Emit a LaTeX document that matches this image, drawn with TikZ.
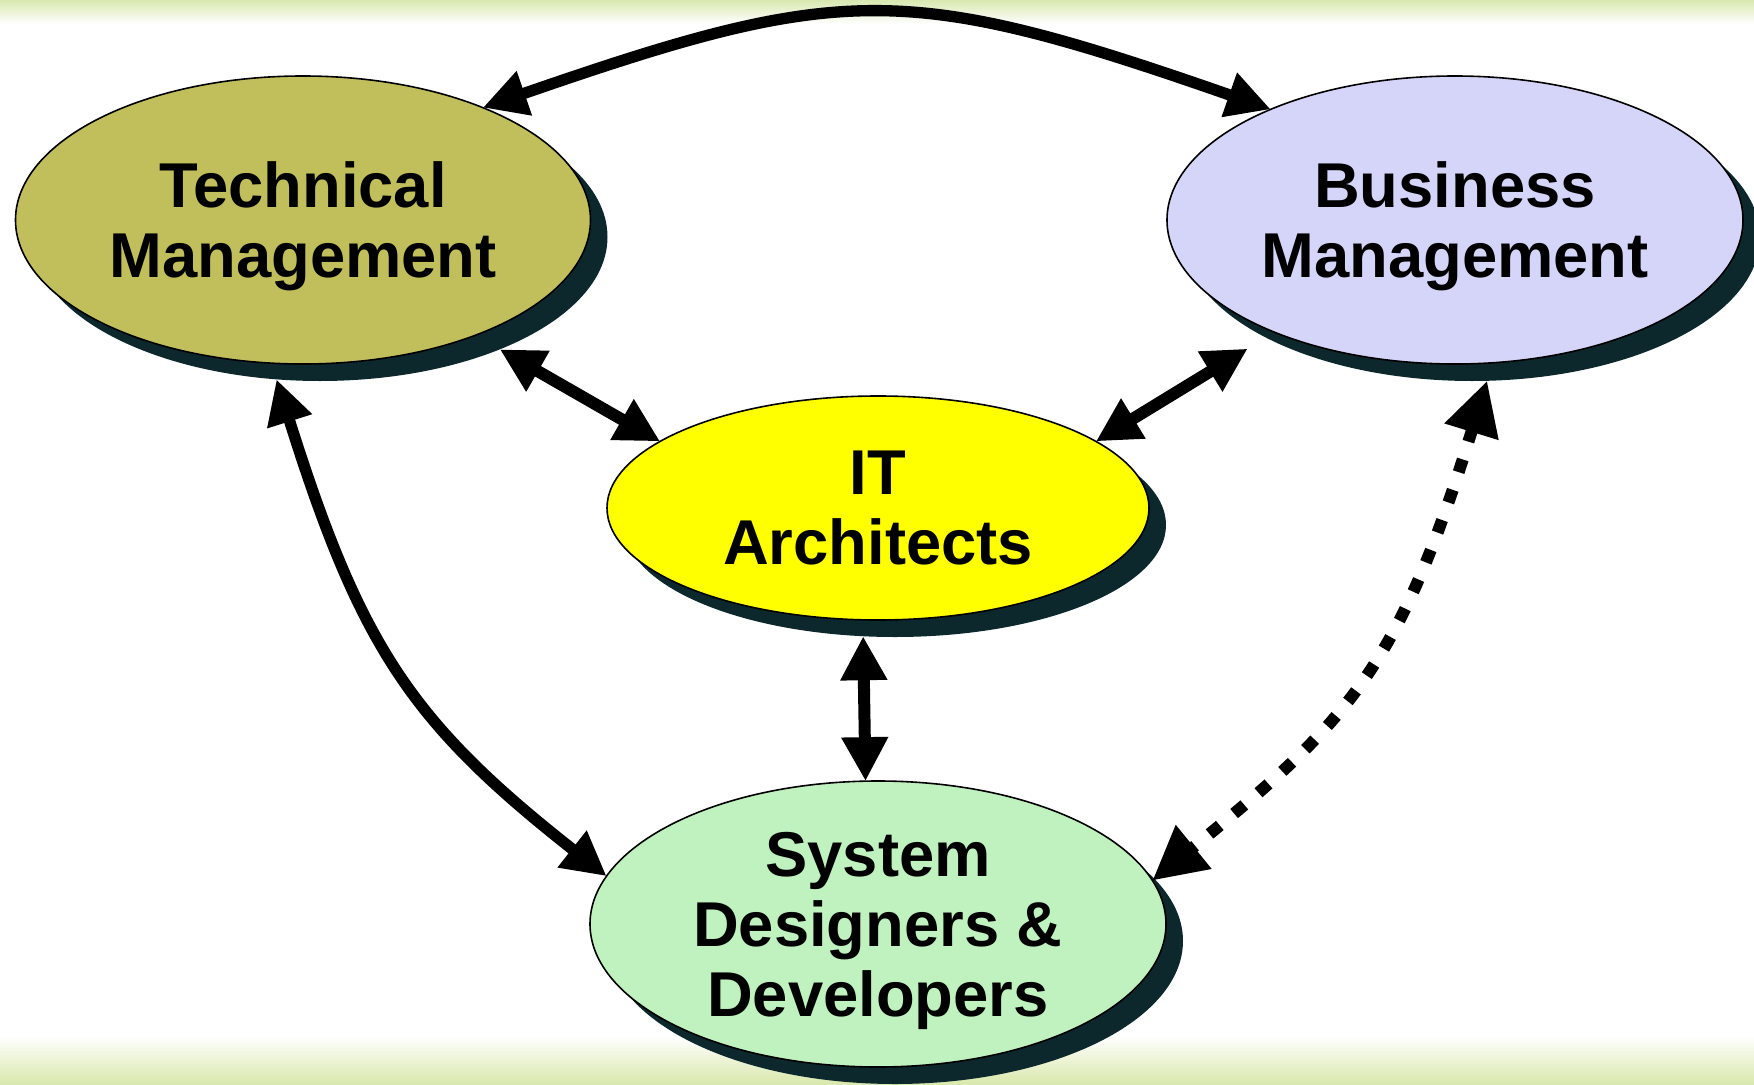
\documentclass[tikz,border=0pt]{standalone}
\usepackage{fontspec}
\setmainfont{Liberation Sans}
\usetikzlibrary{arrows.meta,shapes.geometric}

% last line of a label: keep its height, drop its descender
\newcommand{\flatline}[1]{\raisebox{0pt}[\height][0pt]{#1}}

\tikzset{every picture/.style={line width=0.75pt}}
\tikzset{
  bubble/.style={ellipse, draw, line width=1.2pt, inner sep=0pt, outer sep=0pt, align=center,
    font=\fontsize{47.5}{52.5}\selectfont\bfseries},
  bubbleshade/.style={ellipse, inner sep=0pt, outer sep=0pt, fill={rgb, 255:red, 12; green, 40; blue, 44}},
  biglink/.style={line width=9pt, {Triangle[length=33pt,width=33pt]}-{Triangle[length=33pt,width=33pt]}},
  bendlink/.style={line width=8.5pt, {Triangle[length=33pt,width=33pt]}-{Triangle[length=33pt,width=33pt]}},
  dotlink/.style={line width=9pt, dash pattern=on 10pt off 14pt, {Triangle[length=40pt,width=40pt]}-{Triangle[length=40pt,width=40pt]}}
}

\begin{document}
\begin{tikzpicture}[x=0.75pt,y=0.75pt,yscale=-1,xscale=1]
\useasboundingbox (0,0) rectangle (1754,1085);

%Shape: Rectangle [top band]
\fill [top color={rgb, 255:red, 216; green, 232; blue, 176 }, bottom color=white] (0,0) rectangle (1754,24);
%Shape: Rectangle [bottom band]
\fill [top color=white, bottom color={rgb, 255:red, 216; green, 232; blue, 170 }] (0,1036) rectangle (1754,1085);

%Shape: Ellipse shadows
\node [bubbleshade, minimum width=575*0.75pt, minimum height=288*0.75pt] (tmsh) at (320,237) {};
\node [bubbleshade, minimum width=576*0.75pt, minimum height=288*0.75pt] (bmsh) at (1472,237) {};
\node [bubbleshade, minimum width=542*0.75pt, minimum height=224*0.75pt] (itsh) at (895,525) {};
\node [bubbleshade, minimum width=576*0.75pt, minimum height=286*0.75pt] (sdsh) at (895,941) {};

%Shape: Ellipse [Technical Management]
\node [bubble, fill={rgb, 255:red, 192; green, 191; blue, 92 }, minimum width=575*0.75pt, minimum height=288*0.75pt] (tm) at (303,220) {Technical\\\flatline{Management}};
%Shape: Ellipse [Business Management]
\node [bubble, fill={rgb, 255:red, 213; green, 213; blue, 250 }, minimum width=576*0.75pt, minimum height=288*0.75pt] (bm) at (1455,220) {Business\\\flatline{Management}};
%Shape: Ellipse [IT Architects]
\node [bubble, fill={rgb, 255:red, 255; green, 255; blue, 0 }, minimum width=542*0.75pt, minimum height=224*0.75pt] (it) at (878,508) {IT\\\flatline{Architects}};
%Shape: Ellipse [System Designers]
\node [bubble, fill={rgb, 255:red, 192; green, 242; blue, 192 }, minimum width=576*0.75pt, minimum height=286*0.75pt] (sd) at (878,924) {System\\Designers \&\\\flatline{Developers}};

%Curve Lines [top]
\draw [bendlink] (tm.32.7) .. controls (843,-17) and (906,-18) .. (bm.149.4) ;
%Straight Lines [tm - it]
\draw [biglink] (tmsh.-32) -- (it.163.7) ;
%Straight Lines [bm - it]
\draw [biglink, shorten <=16pt] (bmsh.206.4) -- (it.17) ;
%Straight Lines [it - sd]
\draw [biglink] (itsh.254.5) -- (sd.95.5) ;
%Curve Lines [tm - sd]
\draw [bendlink] (tmsh.-107.6) .. controls (361,648) and (412,723) .. (sd.170.4) ;
%Curve Lines [bm - sd]
\draw [dotlink] (bmsh.-84.5) .. controls (1398,671) and (1347,722) .. (sd.9.1) ;

\end{tikzpicture}
\end{document}
